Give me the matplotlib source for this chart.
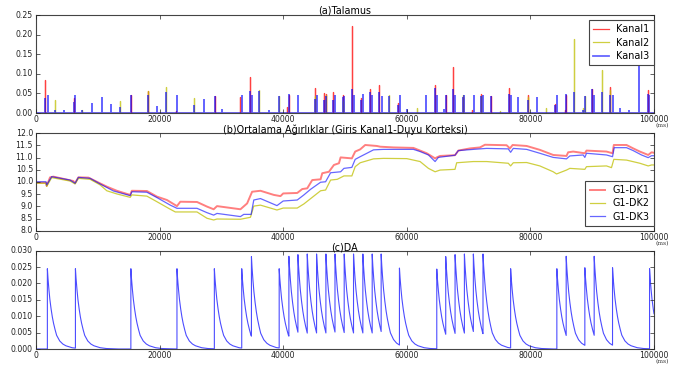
import numpy as np
import matplotlib
matplotlib.use("Agg")
import matplotlib.pyplot as plt
from matplotlib.ticker import FormatStrFormatter, MultipleLocator

# ---------------- data ----------------
T_START, T_END = 0, 100000
X_TICKS = [0, 20000, 40000, 60000, 80000, 100000]

# (a) Talamus spikes: times (ms) and heights
K1_T = [1514, 6110, 15356, 18060, 22650, 28930, 33090, 34600, 40550, 40930, 45200,
        46610, 46930, 48070, 49640, 51110, 52570, 54080, 55580, 58550, 64580, 66360,
        67540, 69050, 70620, 72070, 73580, 76490, 79560, 84030, 85540, 85810, 90010,
        92920, 98950]
K1_H = [0.085, 0.039, 0.047, 0.057, 0.005, 0.044, 0.040, 0.091, 0.016, 0.047, 0.064,
        0.052, 0.048, 0.053, 0.047, 0.222, 0.039, 0.061, 0.072, 0.025, 0.072, 0.047,
        0.118, 0.042, 0.007, 0.049, 0.044, 0.064, 0.046, 0.024, 0.008, 0.047, 0.062,
        0.066, 0.059]
K2_T = [3082, 7516, 13570, 18060, 21090, 25630, 36120, 39360, 45200, 46930, 49640,
        57040, 61620, 69050, 72070, 75090, 79560, 82520, 87000, 88560, 88830, 91520,
        92920]
K2_H = [0.034, 0.008, 0.031, 0.055, 0.066, 0.039, 0.059, 0.044, 0.044, 0.046, 0.030,
        0.046, 0.012, 0.046, 0.044, 0.006, 0.042, 0.012, 0.189, 0.013, 0.044, 0.110,
        0.059]
K3_T = [1514, 1892, 3082, 4540, 6110, 6380, 7516, 9030, 10600, 12058, 13570, 15356,
        18060, 19570, 21090, 22870, 25630, 27140, 28930, 30120, 33410, 34600, 34930,
        36120, 37630, 39360, 40930, 42390, 45200, 45400, 46610, 46930, 48070, 48340,
        49640, 49880, 51110, 51380, 52570, 52890, 54080, 54400, 55580, 55910, 57040,
        58550, 58820, 60060, 63070, 64580, 64850, 66090, 66360, 67540, 67810, 69050,
        69320, 70830, 72070, 72400, 73580, 76490, 76810, 78050, 79560, 81010, 84030,
        84300, 85810, 87000, 88560, 88830, 90010, 90340, 91520, 92920, 93300, 94480,
        95990, 97540, 98950, 99270]
K3_H = [0.036, 0.044, 0.006, 0.004, 0.025, 0.044, 0.004, 0.023, 0.039, 0.021, 0.014,
        0.044, 0.044, 0.016, 0.052, 0.044, 0.019, 0.034, 0.042, 0.008, 0.044, 0.054,
        0.044, 0.054, 0.005, 0.042, 0.047, 0.044, 0.034, 0.044, 0.030, 0.042, 0.030,
        0.044, 0.037, 0.042, 0.058, 0.044, 0.030, 0.047, 0.051, 0.044, 0.051, 0.042,
        0.042, 0.017, 0.044, 0.008, 0.044, 0.061, 0.044, 0.008, 0.044, 0.058, 0.044,
        0.039, 0.044, 0.044, 0.040, 0.044, 0.042, 0.047, 0.044, 0.037, 0.030, 0.039,
        0.017, 0.044, 0.047, 0.052, 0.004, 0.042, 0.059, 0.044, 0.051, 0.044, 0.044,
        0.010, 0.006, 0.130, 0.047, 0.044]

# (b) average weights
DK1_T = [0, 1620, 1730, 2270, 2810, 6050, 6320, 6860, 8490, 9840, 11460, 13080, 15240,
         15510, 17940, 19570, 21190, 22810, 23350, 26050, 27670, 28750, 29290, 33080,
         34160, 34970, 36320, 38480, 39560, 40000, 42270, 43080, 43890, 44700, 46050,
         46320, 47400, 48210, 49020, 49290, 51110, 51650, 52460, 53270, 55150, 55690,
         57850, 61070, 62150, 63230, 64580, 64850, 65380, 67800, 68340, 70230, 71840,
         72650, 76150, 76690, 77120, 79390, 81530, 83690, 85840, 86110, 86920, 88810,
         89080, 92310, 93290, 93500, 95550, 96630, 97710, 99060, 99600, 100000]
DK1_V = [9.97, 9.97, 9.84, 10.19, 10.22, 10.04, 9.95, 10.19, 10.18, 10.01, 9.81, 9.64,
         9.47, 9.64, 9.63, 9.40, 9.26, 9.01, 9.19, 9.18, 8.99, 8.88, 9.01, 8.88, 9.12,
         9.60, 9.64, 9.47, 9.42, 9.53, 9.55, 9.71, 9.74, 10.08, 10.11, 10.36, 10.42,
         10.70, 10.77, 11.01, 10.97, 11.25, 11.34, 11.52, 11.48, 11.45, 11.42, 11.40,
         11.29, 11.18, 10.97, 11.01, 11.07, 11.10, 11.29, 11.38, 11.42, 11.53, 11.51,
         11.38, 11.52, 11.48, 11.32, 11.11, 11.07, 11.22, 11.25, 11.18, 11.29, 11.25,
         11.18, 11.52, 11.52, 11.38, 11.25, 11.11, 11.22, 11.20]
DK2_T = [0, 1620, 1730, 2540, 5510, 6320, 6860, 8760, 10380, 11460, 13080, 15240, 15510,
         17940, 19570, 21730, 22540, 26050, 27670, 28750, 29290, 33080, 34700, 35240,
         36320, 38990, 40000, 42270, 43350, 44700, 46050, 46860, 47670, 48750, 49830,
         51110, 51650, 52460, 54610, 56230, 60000, 62150, 63500, 64580, 65380, 67800,
         68070, 70770, 72920, 76420, 76800, 77230, 79390, 81530, 83690, 84230, 85840,
         86380, 88810, 89080, 92310, 93120, 93500, 95550, 97710, 99060, 99600, 100000]
DK2_V = [9.95, 9.95, 9.82, 10.18, 10.04, 9.92, 10.15, 10.11, 9.88, 9.64, 9.51, 9.37,
         9.47, 9.42, 9.19, 8.88, 8.77, 8.77, 8.51, 8.44, 8.48, 8.47, 8.55, 9.01, 9.05,
         8.85, 8.93, 8.93, 9.10, 9.37, 9.64, 9.67, 10.08, 10.11, 10.25, 10.25, 10.63,
         10.79, 10.95, 10.97, 10.96, 10.84, 10.56, 10.42, 10.49, 10.52, 10.79, 10.84,
         10.84, 10.77, 10.66, 10.79, 10.80, 10.66, 10.42, 10.33, 10.49, 10.56, 10.52,
         10.63, 10.66, 10.59, 10.93, 10.90, 10.77, 10.66, 10.70, 10.70]
DK3_T = [0, 1620, 1730, 2540, 5510, 6320, 6860, 8760, 10380, 12540, 15240, 15510, 17940,
         19570, 21730, 22810, 26050, 27670, 28750, 29290, 33080, 33620, 34810, 35240,
         36320, 38990, 40000, 42270, 43350, 44430, 46050, 46860, 47670, 49290, 49830,
         51110, 51650, 52460, 53540, 54610, 56230, 61070, 62150, 63500, 64580, 65110,
         67800, 68340, 70770, 72920, 76420, 76800, 77230, 79390, 81530, 83690, 85840,
         86380, 88540, 88810, 89080, 92310, 93290, 93560, 95550, 96630, 97980, 99060,
         99600, 100000]
DK3_V = [10.01, 10.01, 9.88, 10.22, 10.08, 9.95, 10.19, 10.15, 9.92, 9.63, 9.44, 9.60,
         9.58, 9.36, 9.05, 8.92, 8.92, 8.74, 8.64, 8.71, 8.58, 8.67, 8.67, 9.26, 9.32,
         9.03, 9.22, 9.26, 9.47, 9.70, 9.99, 10.01, 10.38, 10.42, 10.56, 10.60, 10.93,
         11.04, 11.18, 11.32, 11.34, 11.34, 11.25, 11.11, 10.84, 11.01, 11.10, 11.29,
         11.34, 11.38, 11.36, 11.22, 11.38, 11.34, 11.18, 11.01, 10.95, 11.07, 11.11,
         11.01, 11.18, 11.11, 11.04, 11.41, 11.41, 11.29, 11.11, 11.00, 11.08, 11.08]

# (c) DA: release times (ms), peak values, and decay profile
DA_T = [1840, 6380, 15350, 22810, 28860, 33290, 34860, 39350, 40920, 42380, 43890,
        45400, 46910, 48380, 49870, 51380, 52890, 54400, 55850, 58810, 64850, 66300,
        67810, 69320, 70770, 72330, 76800, 84280, 85790, 88810, 90320, 93290, 99280]
DA_PEAK = [0.0245, 0.0245, 0.0245, 0.0245, 0.0245, 0.0245, 0.0282, 0.0245, 0.0283,
           0.0288, 0.0290, 0.0290, 0.0290, 0.0290, 0.0290, 0.0290, 0.0290, 0.0290,
           0.0290, 0.0247, 0.0244, 0.0282, 0.0288, 0.0290, 0.0290, 0.0290, 0.0245,
           0.0245, 0.0283, 0.0248, 0.0283, 0.0248, 0.0245]
DECAY_OFF = [0, 100, 250, 400, 600, 800, 1000, 1250, 1500, 2000, 2500, 3000, 4000, 5000, 7000]
DECAY_FRAC = [1.0, 0.88, 0.74, 0.62, 0.50, 0.40, 0.32, 0.24, 0.17, 0.10, 0.062, 0.040,
              0.016, 0.006, 0.0]

LABELS_A = ["Kanal1", "Kanal2", "Kanal3"]
LABELS_B = ["G1-DK1", "G1-DK2", "G1-DK3"]
TITLE_A = "(a)Talamus"
TITLE_B = "(b)Ortalama Ağırlıklar (Giris Kanal1-Duyu Korteksi)"
TITLE_C = "(c)DA"
UNIT = "(ms)"

# ---------------- helpers ----------------
def spike_series(times, heights):
    xs, ys = [T_START], [0.0]
    for t, h in sorted(zip(times, heights)):
        xs += [t, t, t]
        ys += [0.0, h, 0.0]
    xs.append(T_END)
    ys.append(0.0)
    return xs, ys


def da_series(times, peaks):
    xs, ys = [T_START, times[0]], [0.0, 0.0]
    for i, (t, p) in enumerate(zip(times, peaks)):
        t_next = times[i + 1] if i + 1 < len(times) else T_END
        for off, fr in zip(DECAY_OFF, DECAY_FRAC):
            if t + off < t_next:
                xs.append(t + off)
                ys.append(p * fr)
        xs.append(t_next)
        ys.append(p * np.interp(t_next - t, DECAY_OFF, DECAY_FRAC))
    return xs, ys


# ---------------- style ----------------
plt.style.use("classic")
plt.rcParams.update({
    "figure.facecolor": "white",
    "savefig.facecolor": "white",
    "font.family": ["DejaVu Sans"],
    "font.size": 5.8,
    "axes.linewidth": 0.8,
    "axes.edgecolor": "#444444",
    "xtick.direction": "in",
    "ytick.direction": "in",
    "xtick.major.size": 3,
    "ytick.major.size": 3,
    "xtick.minor.size": 0,
    "ytick.minor.size": 0,
    "xtick.major.pad": 1.8,
    "ytick.major.pad": 2.2,
    "xtick.labelsize": 5.6,
    "ytick.labelsize": 5.6,
    "xtick.color": "#222222",
    "ytick.color": "#222222",
})

fig = plt.figure(figsize=(6.91, 3.73), dpi=100)
L, W = 36 / 691, 618 / 691
ax1 = fig.add_axes([L, 1 - 113 / 373, W, 98 / 373])
ax2 = fig.add_axes([L, 1 - 230.7 / 373, W, 97.4 / 373])
ax3 = fig.add_axes([L, 1 - 349 / 373, W, 98.3 / 373])

# (a)
x, y = spike_series(K1_T, K1_H)
ax1.plot(x, y, color="#ff0000", lw=0.9, alpha=0.75, label=LABELS_A[0])
x, y = spike_series(K2_T, K2_H)
ax1.plot(x, y, color="#bfbf00", lw=0.9, alpha=0.75, label=LABELS_A[1])
x, y = spike_series(K3_T, K3_H)
ax1.plot(x, y, color="#0000ff", lw=1.3, alpha=0.6, label=LABELS_A[2])
ax1.set_ylim(0, 0.25)
ax1.yaxis.set_major_locator(MultipleLocator(0.05))
ax1.yaxis.set_major_formatter(FormatStrFormatter("%.2f"))
leg = ax1.legend(loc="upper right", bbox_to_anchor=(1.0, 1 - 5 / 98), borderaxespad=0,
                 fontsize=6.9, frameon=True, fancybox=False, numpoints=1,
                 handlelength=1.6, handletextpad=0.8, labelspacing=0.35, borderpad=0.45)
leg.get_frame().set_edgecolor("#444444")
leg.get_frame().set_linewidth(0.8)
ax1.set_title(TITLE_A, fontsize=6.9, pad=1)

# (b)
ax2.plot(DK1_T, DK1_V, color="#ff0000", lw=1.4, alpha=0.5, label=LABELS_B[0])
ax2.plot(DK2_T, DK2_V, color="#bfbf00", lw=0.9, alpha=0.75, label=LABELS_B[1])
ax2.plot(DK3_T, DK3_V, color="#0000ff", lw=0.9, alpha=0.6, label=LABELS_B[2])
ax2.set_ylim(8.0, 12.0)
ax2.yaxis.set_major_locator(MultipleLocator(0.5))
ax2.yaxis.set_major_formatter(FormatStrFormatter("%.1f"))
leg = ax2.legend(loc="lower right", bbox_to_anchor=(1.0, 4.7 / 97.4), borderaxespad=0,
                 fontsize=6.9, frameon=True, fancybox=False, numpoints=1,
                 handlelength=1.6, handletextpad=0.8, labelspacing=0.35, borderpad=0.45)
leg.get_frame().set_edgecolor("#444444")
leg.get_frame().set_linewidth(0.8)
ax2.set_title(TITLE_B, fontsize=6.9, pad=0.5)

# (c)
x, y = da_series(DA_T, DA_PEAK)
ax3.plot(x, y, color="#0000ff", lw=0.8, alpha=0.7)
ax3.set_ylim(0, 0.030)
ax3.yaxis.set_major_locator(MultipleLocator(0.005))
ax3.yaxis.set_major_formatter(FormatStrFormatter("%.3f"))
ax3.set_title(TITLE_C, fontsize=6.9, pad=0.5)

for ax in (ax1, ax2, ax3):
    ax.set_xlim(T_START, T_END)
    ax.set_xticks(X_TICKS)
    ax.xaxis.set_major_formatter(FormatStrFormatter("%d"))
    ax.tick_params(top=True, right=True, which="major")
    ax.minorticks_off()
    ax.annotate(UNIT, xy=(1, 0), xycoords="axes fraction", xytext=(15, -10),
                textcoords="offset pixels", ha="right", va="top",
                family="DejaVu Serif", fontsize=4.3, color="#333333")

fig.savefig("out.png", dpi=100)
